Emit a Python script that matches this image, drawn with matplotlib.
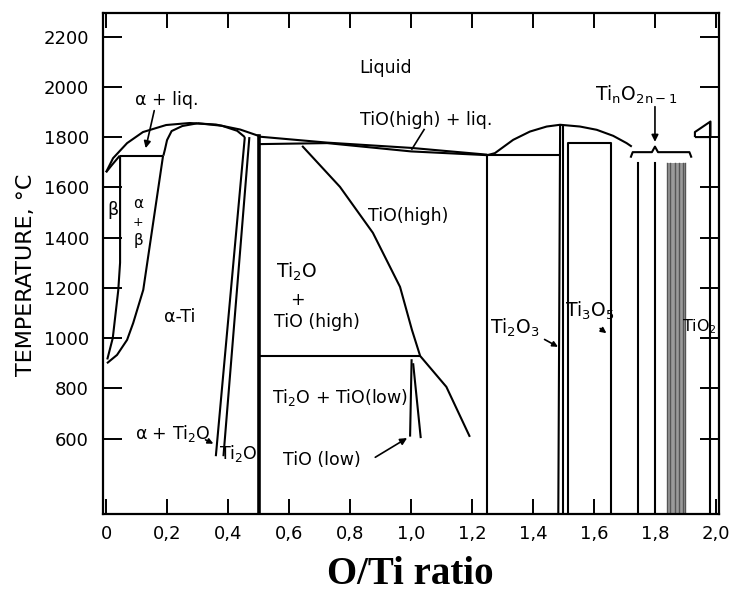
import matplotlib
matplotlib.use("Agg")
import matplotlib.pyplot as plt

plt.rcParams['font.family'] = ['DejaVu Sans']

# ---- phase boundaries (O/Ti ratio, temperature in C) ----
liq_ti_x = [0, 0.023, 0.069, 0.121, 0.197, 0.274, 0.36, 0.44, 0.5]
liq_ti_t = [1660, 1716, 1776, 1820, 1848, 1856, 1850, 1830, 1805]
beta_sol_x = [0, 0.02, 0.045]
beta_sol_t = [1660, 1690, 1726]
perit_x = [0.045, 0.188]
perit_t = [1726, 1726]
alpha_sol_x = [0.188, 0.193, 0.2, 0.215, 0.25, 0.3]
alpha_sol_t = [1726, 1750, 1788, 1824, 1844, 1855]
alpha_right_x = [0.3, 0.38, 0.43, 0.455]
alpha_right_t = [1855, 1845, 1825, 1800]
beta_x = [0.046, 0.046, 0.04, 0.022, 0.004]
beta_t = [1726, 1300, 1190, 1000, 915]
ab_x = [0.187, 0.122, 0.089, 0.069, 0.036, 0.003]
ab_t = [1726, 1192, 1060, 993, 933, 900]
lineA_x = [0.455, 0.36]
lineA_t = [1800, 530]
lineB_x = [0.47, 0.385]
lineB_t = [1800, 530]
ti2o_x = [0.5, 0.5]
ti2o_t = [1805, 300]

# TiO region
tio_liq_x = [0.5, 0.725, 1.0, 1.25]
tio_liq_t = [1802, 1778, 1757, 1730]
tio_sol_x = [0.5, 0.725, 1.0, 1.25]
tio_sol_t = [1772, 1776, 1743, 1728]
tioh_x = [0.643, 0.767, 0.875, 0.964, 1.003, 1.03, 1.116, 1.193]
tioh_t = [1765, 1602, 1419, 1204, 1033, 929, 806, 607]
trans_x = [0.5, 1.03]
trans_t = [930, 930]
tiol1_x = [1.002, 0.997]
tiol1_t = [916, 608]
tiol2_x = [1.007, 1.032]
tiol2_t = [900, 602]
v125_x = [1.25, 1.25]
v125_t = [1730, 300]

# Ti2O3 / Ti3O5
dome_x = [1.25, 1.275, 1.335, 1.39, 1.445, 1.489, 1.554, 1.609, 1.663, 1.707, 1.724]
dome_t = [1728, 1736, 1789, 1822, 1842, 1849, 1842, 1829, 1805, 1776, 1762]
eut2_x = [1.25, 1.489]
eut2_t = [1730, 1730]
ti2o3a_x = [1.489, 1.483]
ti2o3a_t = [1849, 300]
ti2o3b_x = [1.497, 1.497]
ti2o3b_t = [1845, 300]
box_x = [1.515, 1.515, 1.655, 1.655]
box_t = [300, 1777, 1777, 300]

# Magneli phases
magneli_x = [1.745, 1.80]
magneli_top = 1697
band_x = [1.838, 1.90]
band_lines = [1.85, 1.865, 1.88, 1.893]
brace_x = [1.72, 1.727, 1.79, 1.80, 1.81, 1.913, 1.92]
brace_t = [1718, 1740, 1740, 1762, 1740, 1740, 1718]

# TiO2
tio2_cap_x = [1.931, 1.982, 1.982, 1.931, 1.931]
tio2_cap_t = [1800, 1800, 1862, 1820, 1800]
tio2_x = [1.982, 1.982]
tio2_t = [1862, 300]

xticks = [0, 0.2, 0.4, 0.6, 0.8, 1.0, 1.2, 1.4, 1.6, 1.8, 2.0]
xticklabels = ['0', '0,2', '0,4', '0,6', '0,8', '1,0', '1,2', '1,4', '1,6', '1,8', '2,0']
yticks = [600, 800, 1000, 1200, 1400, 1600, 1800, 2000, 2200]

fig = plt.figure(figsize=(7.34, 5.92), dpi=100)
ax = fig.add_axes([103 / 734, 1 - 514 / 592, (719 - 103) / 734, (514 - 12.7) / 592])

lw = 1.5
curves = [(liq_ti_x, liq_ti_t), (beta_sol_x, beta_sol_t), (perit_x, perit_t),
          (alpha_sol_x, alpha_sol_t), (alpha_right_x, alpha_right_t),
          (beta_x, beta_t), (ab_x, ab_t), (lineA_x, lineA_t), (lineB_x, lineB_t),
          (tio_liq_x, tio_liq_t), (tio_sol_x, tio_sol_t), (tioh_x, tioh_t),
          (trans_x, trans_t), (tiol1_x, tiol1_t), (tiol2_x, tiol2_t),
          (v125_x, v125_t), (dome_x, dome_t), (eut2_x, eut2_t),
          (ti2o3a_x, ti2o3a_t), (ti2o3b_x, ti2o3b_t), (box_x, box_t),
          (brace_x, brace_t), (tio2_cap_x, tio2_cap_t), (tio2_x, tio2_t)]
for cx, ct in curves:
    ax.plot(cx, ct, color='k', lw=lw, solid_capstyle='butt')
ax.plot(ti2o_x, ti2o_t, color='k', lw=2.6)

for mx in magneli_x:
    ax.plot([mx, mx], [magneli_top, 300], color='k', lw=lw)
ax.fill_betweenx([300, magneli_top], band_x[0], band_x[1], color='#9a9a9a', lw=0)
for bx in band_x + band_lines:
    ax.plot([bx, bx], [magneli_top, 300], color='#555555', lw=1.0)

# ---- labels ----
fs = 12.5
ax.text(0.915, 2075, 'Liquid', fontsize=fs, ha='center', va='center')
ax.text(0.20, 1948, 'α + liq.', fontsize=fs, ha='center', va='center')
ax.annotate('', xy=(0.128, 1745), xytext=(0.16, 1916),
            arrowprops=dict(arrowstyle='-|>', color='k', lw=1.2, mutation_scale=10))
ax.text(1.049, 1866, 'TiO(high) + liq.', fontsize=fs, ha='center', va='center')
ax.plot([1.043, 1.003], [1830, 1752], color='k', lw=1.2)
ax.text(1.74, 1968, r'Ti$_{\mathregular{n}}$O$_{\mathregular{2n-1}}$', fontsize=fs + 1,
        ha='center', va='center')
ax.annotate('', xy=(1.80, 1770), xytext=(1.80, 1932),
            arrowprops=dict(arrowstyle='-|>', color='k', lw=1.2, mutation_scale=10))
ax.text(0.99, 1485, 'TiO(high)', fontsize=fs, ha='center', va='center')
ax.text(0.624, 1264, r'Ti$_{\mathregular{2}}$O', fontsize=fs + 1, ha='center', va='center')
ax.text(0.626, 1152, '+', fontsize=fs, ha='center', va='center')
ax.text(0.69, 1065, 'TiO (high)', fontsize=fs, ha='center', va='center')
ax.text(0.242, 1085, 'α-Ti', fontsize=fs, ha='center', va='center')
ax.text(0.767, 763, r'Ti$_{\mathregular{2}}$O + TiO(low)', fontsize=fs, ha='center', va='center')
ax.text(0.708, 514, 'TiO (low)', fontsize=fs, ha='center', va='center')
ax.annotate('', xy=(0.995, 608), xytext=(0.875, 520),
            arrowprops=dict(arrowstyle='-|>', color='k', lw=1.2, mutation_scale=10))
ax.text(0.22, 622, r'α + Ti$_{\mathregular{2}}$O', fontsize=fs, ha='center', va='center')
ax.annotate('', xy=(0.36, 575), xytext=(0.318, 600),
            arrowprops=dict(arrowstyle='-|>', color='k', lw=1.2, mutation_scale=8))
ax.text(0.435, 540, r'Ti$_{\mathregular{2}}$O', fontsize=fs, ha='center', va='center')
ax.text(0.022, 1510, 'β', fontsize=fs, ha='center', va='center')
ax.text(0.105, 1535, 'α', fontsize=11, ha='center', va='center')
ax.text(0.105, 1462, '+', fontsize=9, ha='center', va='center')
ax.text(0.105, 1390, 'β', fontsize=11, ha='center', va='center')
ax.text(1.34, 1040, r'Ti$_{\mathregular{2}}$O$_{\mathregular{3}}$', fontsize=fs + 1,
        ha='center', va='center')
ax.annotate('', xy=(1.49, 960), xytext=(1.43, 1000),
            arrowprops=dict(arrowstyle='-|>', color='k', lw=1.2, mutation_scale=8))
ax.text(1.587, 1110, r'Ti$_{\mathregular{3}}$O$_{\mathregular{5}}$', fontsize=fs + 1,
        ha='center', va='center')
ax.annotate('', xy=(1.648, 1013), xytext=(1.613, 1045),
            arrowprops=dict(arrowstyle='-|>', color='k', lw=1.2, mutation_scale=8))
ax.text(1.945, 1045, r'TiO$_{\mathregular{2}}$', fontsize=11.5, ha='center', va='center')

# ---- axes ----
ax.set_xlim(-0.01, 2.01)
ax.set_ylim(300, 2295)
ax.set_xticks(xticks)
ax.set_xticklabels(xticklabels)
ax.set_yticks(yticks)
ax.tick_params(axis='both', direction='in', top=True, right=True, labelsize=13,
               width=1.4, colors='k')
ax.tick_params(axis='y', length=14, pad=10)
ax.tick_params(axis='x', length=11, pad=8)
for s in ax.spines.values():
    s.set_linewidth(1.6)

fig.text(26 / 734, 1 - 275 / 592, 'TEMPERATURE, °C', rotation=90, fontsize=16,
         ha='center', va='center')
fig.text(410 / 734, 1 - 575 / 592, 'O/Ti ratio', family='Liberation Serif',
         fontweight='bold', fontsize=28, ha='center', va='center')

plt.savefig('out.png', dpi=100)
